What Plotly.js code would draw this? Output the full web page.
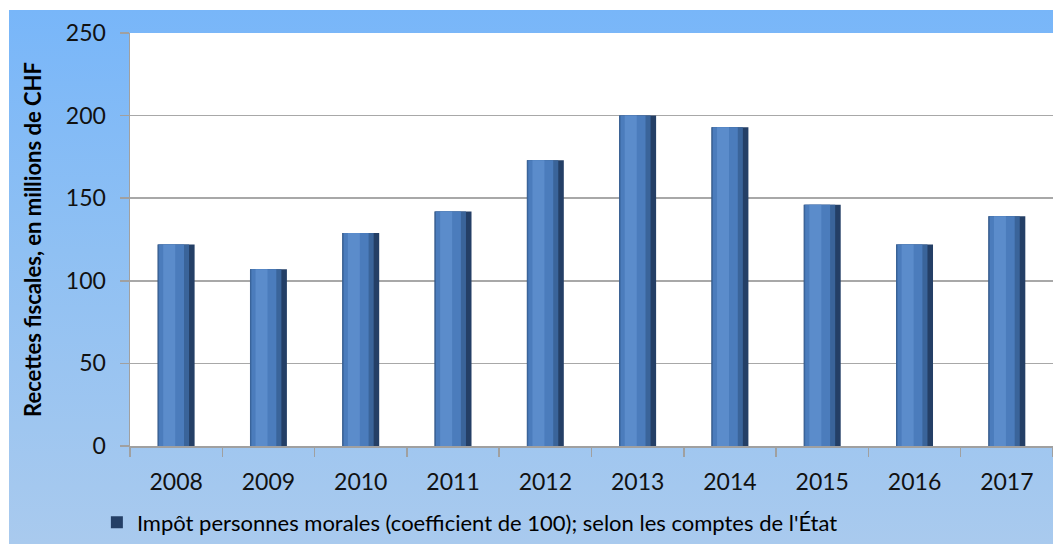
<!DOCTYPE html>
<html>
<head>
<meta charset="utf-8">
<script src="https://cdn.plot.ly/plotly-3.0.1.min.js"></script>
<style>
    html, body { margin: 0; padding: 0; background: #fff; }
    #wrap { position: relative; width: 1053px; height: 544px; overflow: hidden; }
    #bg {
        position: absolute; left: 9px; top: 10px; right: 0; bottom: 0;
        background: linear-gradient(to bottom, #78b6f9 0%, #8fc0f3 45%, #a9caee 100%);
    }
    #chart { position: absolute; left: 0; top: 0; width: 1053px; height: 544px; }
</style>
</head>
<body>
<div id="wrap">
    <div id="bg"></div>
    <div id="chart"></div>
</div>
<script>
    // --- DADES ---
    const years = ['2008', '2009', '2010', '2011', '2012', '2013', '2014', '2015', '2016', '2017'];
    const recettes = [122, 107, 129, 142, 173, 200, 193, 146, 122, 139];
    const seriesName = "Impôt personnes morales (coefficient de 100); selon les comptes de l'État";
    const yTicks = [0, 50, 100, 150, 200, 250];

    // capes del cilindre: amplada, desplaçament, color
    const shades = [
        { w: 0.40, o: -0.20, c: '#243f66' },
        { w: 0.34, o: -0.20, c: '#3a649a' },
        { w: 0.27, o: -0.185, c: '#4b7cbc' },
        { w: 0.13, o: -0.14, c: '#5b8ccb' },
    ];

    const traces = shades.map((s, i) => ({
        type: 'bar',
        x: years,
        y: recettes,
        width: s.w,
        offset: s.o,
        name: seriesName,
        showlegend: i === 0,
        hoverinfo: i === 0 ? 'x+y' : 'skip',
        marker: { color: s.c, line: { width: 0 } },
    }));

    const layout = {
        width: 1053,
        height: 544,
        margin: { t: 33, r: 0, b: 98, l: 130 },
        paper_bgcolor: 'rgba(0,0,0,0)',
        plot_bgcolor: '#ffffff',
        barmode: 'overlay',
        font: { family: 'Lato, "Open Sans", sans-serif', color: '#000' },
        xaxis: {
            type: 'category',
            tickson: 'boundaries',
            ticks: 'outside',
            ticklen: 9,
            tickcolor: '#a0a0a0',
            tickwidth: 1.5,
            showline: true,
            linecolor: '#a0a0a0',
            linewidth: 1.5,
            showgrid: false,
            tickfont: { size: 23, color: '#111' },
            ticklabelstandoff: 15,
            fixedrange: true,
        },
        yaxis: {
            range: [0, 250],
            tickvals: yTicks,
            ticks: 'outside',
            ticklen: 9,
            tickcolor: '#a0a0a0',
            tickwidth: 1.5,
            showline: true,
            linecolor: '#a0a0a0',
            linewidth: 1.5,
            gridcolor: '#a8a8a8',
            gridwidth: 1.5,
            zeroline: false,
            tickfont: { size: 23, color: '#111' },
            ticklabelstandoff: 9,
            title: {
                text: 'Recettes fiscales, en millions de CHF',
                font: { size: 22, color: '#000', family: 'Lato, sans-serif', weight: 'bold' },
                standoff: 18,
            },
            automargin: false,
            fixedrange: true,
        },
        showlegend: true,
        legend: {
            orientation: 'h',
            xref: 'container',
            yref: 'container',
            x: 0.092,
            y: 0.078,
            xanchor: 'left',
            yanchor: 'top',
            bgcolor: 'rgba(0,0,0,0)',
            font: { size: 22, color: '#000' },
            itemwidth: 30,
        },
    };

    Plotly.newPlot('chart', traces, layout, { displayModeBar: false, staticPlot: true });
</script>
</body>
</html>
